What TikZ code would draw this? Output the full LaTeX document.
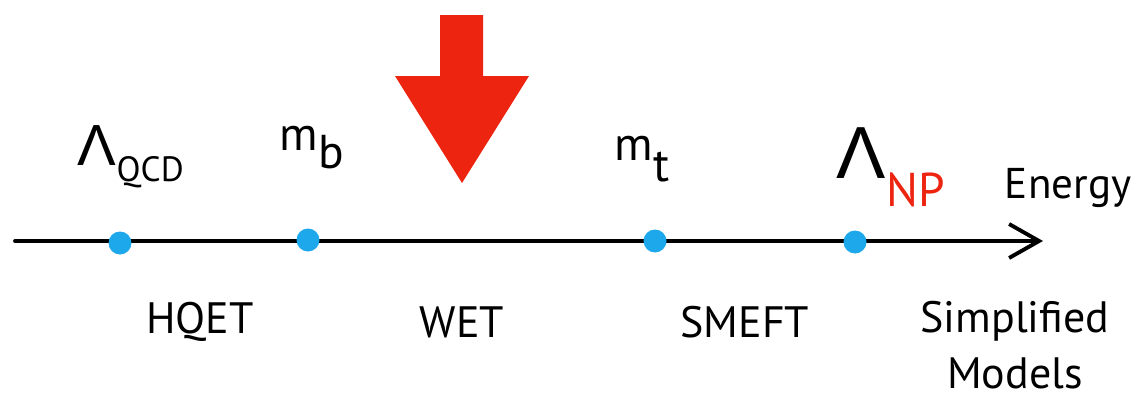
\documentclass[tikz,border=0pt]{standalone}
\usepackage{fontspec}
\setmainfont{PT Sans}
\newfontfamily\greekfont{Liberation Sans}
\usetikzlibrary{arrows.meta}
\definecolor{dotblue}{RGB}{30,168,236}
\definecolor{npred}{RGB}{236,36,16}
\tikzset{
  scalelbl/.style={font=\fontsize{27}{30}\selectfont,inner sep=0pt},
  eftlbl/.style={font=\fontsize{25}{32}\selectfont,align=center},
  scaledot/.style={circle,fill=dotblue,inner sep=0pt,minimum size=0.46cm},
}
\begin{document}
\begin{tikzpicture}[x=0.02cm,y=-0.02cm,line width=2.2pt,line cap=round,line join=round]
	\useasboundingbox (0,0) rectangle (1135,409);
	% energy axis
	\coordinate (start) at (15,241);
	\coordinate (tip) at (1043,241);
	\draw[-{Straight Barb[length=0.6cm,width=0.68cm,line width=2.2pt]}] (start)--(tip);
	\node[scaledot] (qcd) at (120,243) {};
	\node[scaledot] (mb) at (308,240) {};
	\node[scaledot] (mt) at (655,241) {};
	\node[scaledot] (np) at (855,242) {};
	% scales
	\node[scalelbl,anchor=base west] (lqcd) at (76,165) {{\greekfont\fontsize{33}{33}\selectfont Λ}\raisebox{-0.35em}{\fontsize{20}{20}\selectfont QCD}};
	\node[scalelbl,anchor=base west] (lmb) at (278,150) {m\raisebox{-0.4em}{b}};
	\node[scalelbl,anchor=base west] (lmt) at (613,160) {m\raisebox{-0.45em}{t}};
	\node[scalelbl,anchor=base west] (lnp) at (835,178) {{\greekfont\fontsize{42}{42}\selectfont Λ}\raisebox{-0.6em}{\color{npred}NP}};
	\node[scalelbl,anchor=base west,font=\fontsize{24.5}{28}\selectfont] (energy) at (1003,198) {Energy};
	% theories
	\node[eftlbl] (hqet) at (200,322) {HQET};
	\node[eftlbl] (wet) at (462,322) {WET};
	\node[eftlbl] (smeft) at (745,322) {SMEFT};
	\node[eftlbl] (simp) at (1015,345) {Simplified\\Models};
	% big red arrow
	\fill[npred] (440,15)--(483,15)--(483,76)--(529,76)--(462,183)--(395,76)--(440,76)--cycle;
\end{tikzpicture}
\end{document}
